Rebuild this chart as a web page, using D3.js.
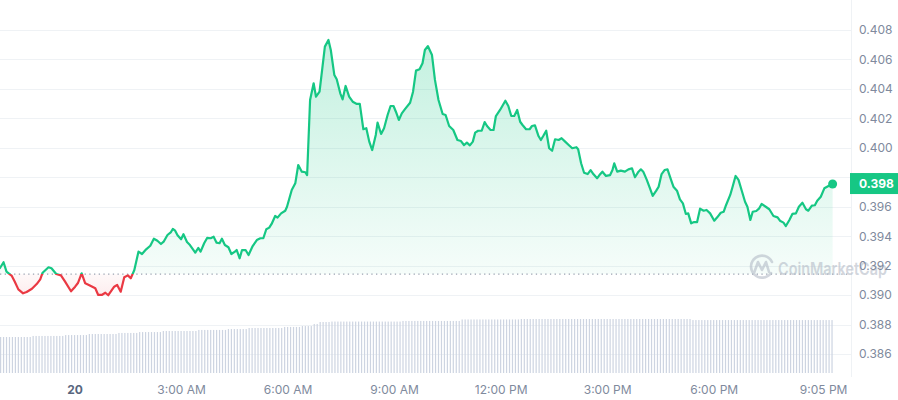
<!DOCTYPE html>
<html>
<head>
<meta charset="utf-8">
<script src="https://cdn.jsdelivr.net/npm/d3@7"></script>
<style>
  body { margin: 0; background: #fff; }
  svg { display: block; font-family: Inter, "Noto Sans", sans-serif; }
</style>
</head>
<body>
<div id="chart"></div>
<script>
// minutes from midnight of the 20th
var priceMinutes = [
  -126,-120,-115,-106,-101,-95,-87,-81,-72,-64,
  -58,-54,-44,-39,-31,-23,-16,-6,1,6,
  12,18,25,35,40,46,52,57,67,72,
  78,84,90,95,101,108,114,121,128,134,
  140,146,151,157,163,166,170,174,180,184,
  190,195,204,209,213,219,224,230,235,240,
  245,249,254,260,265,271,274,279,283,289,
  294,301,308,314,319,324,329,333,339,343,
  349,356,359,367,373,378,384,390,393,398,
  404,408,414,419,423,429,433,439,443,449,
  453,458,464,470,477,482,488,493,498,503,
  509,512,518,523,529,534,539,543,548,553,
  559,567,572,577,583,588,592,597,604,609,
  615,622,627,633,640,647,653,658,663,668,
  673,677,682,688,693,697,703,708,712,719,
  728,733,738,743,748,753,757,763,769,773,
  778,784,788,792,797,802,807,812,818,823,
  829,835,841,848,851,856,861,867,872,877,
  883,887,892,898,905,909,912,917,923,930,
  936,942,947,953,957,961,967,973,977,983,
  987,992,997,1002,1008,1012,1018,1023,1028,1033,
  1037,1042,1047,1052,1057,1063,1068,1074,1081,1086,
  1092,1097,1101,1108,1112,1117,1122,1128,1133,1137,
  1142,1146,1152,1157,1161,1168,1174,1181,1188,1192,
  1198,1202,1208,1213,1219,1224,1230,1236,1240,1246,
  1251,1255,1261,1267,1274,1281
];

var prices = [
  0.39184,0.39223,0.39159,0.39130,0.39091,0.39039,0.39012,0.39021,0.39043,0.39075,
  0.39107,0.39152,0.39189,0.39182,0.39143,0.39134,0.39091,0.39026,0.39057,0.39084,
  0.39148,0.39080,0.39067,0.39046,0.39001,0.39001,0.39016,0.38999,0.39057,0.39069,
  0.39023,0.39121,0.39134,0.39114,0.39170,0.39295,0.39279,0.39311,0.39335,0.39383,
  0.39369,0.39347,0.39365,0.39408,0.39428,0.39449,0.39437,0.39406,0.39379,0.39413,
  0.39360,0.39340,0.39288,0.39320,0.39295,0.39352,0.39388,0.39386,0.39396,0.39356,
  0.39352,0.39383,0.39340,0.39325,0.39279,0.39295,0.39306,0.39250,0.39306,0.39306,
  0.39272,0.39333,0.39374,0.39386,0.39386,0.39447,0.39458,0.39483,0.39537,0.39526,
  0.39555,0.39573,0.39600,0.39714,0.39759,0.39883,0.39838,0.39834,0.39815,0.40325,
  0.40438,0.40347,0.40381,0.40551,0.40687,0.40732,0.40664,0.40494,0.40465,0.40370,
  0.40329,0.40420,0.40347,0.40313,0.40298,0.40298,0.40126,0.40133,0.40042,0.39985,
  0.40087,0.40171,0.40094,0.40133,0.40223,0.40284,0.40284,0.40245,0.40189,0.40234,
  0.40266,0.40306,0.40381,0.40524,0.40533,0.40574,0.40664,0.40691,0.40630,0.40461,
  0.40325,0.40230,0.40223,0.40148,0.40121,0.40053,0.40046,0.40019,0.40035,0.40017,
  0.40042,0.40103,0.40116,0.40116,0.40175,0.40148,0.40121,0.40121,0.40216,0.40257,
  0.40320,0.40284,0.40216,0.40216,0.40257,0.40177,0.40155,0.40126,0.40126,0.40148,
  0.40153,0.40080,0.40053,0.40080,0.40116,0.39997,0.39980,0.40058,0.40053,0.40065,
  0.40042,0.40019,0.39997,0.40004,0.39990,0.39895,0.39831,0.39822,0.39849,0.39820,
  0.39793,0.39815,0.39838,0.39809,0.39815,0.39849,0.39895,0.39838,0.39845,0.39838,
  0.39854,0.39861,0.39800,0.39838,0.39854,0.39838,0.39782,0.39718,0.39673,0.39709,
  0.39736,0.39822,0.39849,0.39854,0.39782,0.39736,0.39709,0.39650,0.39623,0.39551,
  0.39555,0.39487,0.39496,0.39496,0.39587,0.39573,0.39578,0.39555,0.39505,0.39528,
  0.39559,0.39566,0.39612,0.39680,0.39736,0.39809,0.39782,0.39702,0.39634,0.39600,
  0.39510,0.39566,0.39571,0.39589,0.39619,0.39600,0.39583,0.39537,0.39528,0.39505,
  0.39492,0.39469,0.39510,0.39551,0.39555,0.39600,0.39627,0.39583,0.39573,0.39607,
  0.39610,0.39641,0.39668,0.39725,0.39741,0.39754
];

var openPrice = 0.39143;

// volume bars, one per 5 minutes from the first price point (millions)
var volumes = [
  240,240,240,240,240,240,240,240,240,240,
  240,247,247,247,247,247,247,247,247,247,
  247,247,253,253,253,253,253,253,253,253,
  260,260,260,260,260,260,260,260,260,260,
  267,267,267,267,267,267,267,273,273,273,
  273,273,273,273,273,280,280,280,280,280,
  280,280,280,280,280,280,280,287,287,287,
  287,287,287,287,287,287,287,293,293,293,
  293,293,293,293,300,300,300,300,300,300,
  300,300,300,300,300,300,307,307,307,307,
  307,307,313,313,313,313,327,327,340,340,
  340,340,343,343,343,343,343,343,343,343,
  343,343,343,343,343,343,343,343,343,343,
  343,343,343,343,343,343,347,347,347,347,
  347,347,347,347,347,347,347,347,347,347,
  347,347,347,347,347,347,357,357,357,357,
  357,357,357,357,357,357,357,357,357,357,
  357,357,357,357,357,357,360,360,360,360,
  360,360,360,360,360,360,360,360,360,360,
  360,360,360,360,360,360,360,360,360,360,
  360,360,360,360,360,360,360,360,360,360,
  360,360,360,360,360,360,360,360,360,360,
  360,360,360,360,360,360,360,360,360,360,
  360,360,360,360,353,353,353,353,353,353,
  353,353,353,353,353,353,353,353,353,353,
  353,353,353,353,353,353,353,353,353,353,
  353,353,353,353,353,353,353,353,353,353,
  353,353,353,353,353,353,353,353,353,353,
  353,353
];

var yTicks = [0.386, 0.388, 0.390, 0.392, 0.394, 0.396, 0.398, 0.400, 0.402, 0.404, 0.406, 0.408];
var xTickMinutes = [0, 180, 360, 540, 720, 900, 1080, 1265];
var xTickLabels = ["20", "3:00 AM", "6:00 AM", "9:00 AM", "12:00 PM", "3:00 PM", "6:00 PM", "9:05 PM"];

var W = 898, H = 400, plotRight = 848, plotBottom = 373;
var green = "#16c784", red = "#ea3943";

var base = new Date(2024, 0, 20, 0, 0, 0).getTime();
function toDate(m) { return new Date(base + m * 60000); }

var data = priceMinutes.map(function(m, i) { return {date: toDate(m), price: prices[i]}; });
var last = data[data.length - 1];

var svg = d3.select("#chart").append("svg")
    .attr("width", W).attr("height", H);

var x = d3.scaleTime()
    .domain([toDate(priceMinutes[0]), toDate(priceMinutes[priceMinutes.length - 1] + 26)])
    .range([0, plotRight]);
var y = d3.scaleLinear().domain([0.386, 0.408]).range([354, 30]);
var yVol = d3.scaleLinear().domain([0, 400]).range([plotBottom, plotBottom - 60]);

var defs = svg.append("defs");
var yOpen = y(openPrice);

defs.append("clipPath").attr("id", "above")
  .append("rect").attr("x", -5).attr("y", 0).attr("width", W).attr("height", yOpen);
defs.append("clipPath").attr("id", "below")
  .append("rect").attr("x", -5).attr("y", yOpen).attr("width", W).attr("height", H - yOpen);

var gGreen = defs.append("linearGradient").attr("id", "gGreen")
    .attr("gradientUnits", "userSpaceOnUse")
    .attr("x1", 0).attr("x2", 0).attr("y1", y(0.4075)).attr("y2", yOpen);
gGreen.append("stop").attr("offset", 0).attr("stop-color", green).attr("stop-opacity", 0.26);
gGreen.append("stop").attr("offset", 1).attr("stop-color", green).attr("stop-opacity", 0.04);

var gRed = defs.append("linearGradient").attr("id", "gRed")
    .attr("gradientUnits", "userSpaceOnUse")
    .attr("x1", 0).attr("x2", 0).attr("y1", yOpen).attr("y2", y(0.3898));
gRed.append("stop").attr("offset", 0).attr("stop-color", red).attr("stop-opacity", 0.03);
gRed.append("stop").attr("offset", 1).attr("stop-color", red).attr("stop-opacity", 0.1);

// grid
svg.append("g").selectAll("line").data(yTicks).join("line")
    .attr("x1", 0).attr("x2", 851)
    .attr("y1", function(d) { return Math.round(y(d)) + 0.5; })
    .attr("y2", function(d) { return Math.round(y(d)) + 0.5; })
    .attr("stroke", "#eff2f5").attr("stroke-width", 1);

svg.append("line")
    .attr("x1", 851.5).attr("x2", 851.5).attr("y1", 0).attr("y2", 377)
    .attr("stroke", "#eff2f5");

// volume
svg.append("g").selectAll("rect").data(volumes).join("rect")
    .attr("x", function(d, i) { return x(toDate(priceMinutes[0] + 5 * i)); })
    .attr("y", function(d) { return yVol(d); })
    .attr("width", 1.2)
    .attr("height", function(d) { return plotBottom - yVol(d); })
    .attr("fill", "#cdd4e1");

// price area + line
var area = d3.area()
    .x(function(d) { return x(d.date); })
    .y0(yOpen)
    .y1(function(d) { return y(d.price); });

var line = d3.line()
    .x(function(d) { return x(d.date); })
    .y(function(d) { return y(d.price); });

svg.append("path").datum(data).attr("d", area)
    .attr("clip-path", "url(#above)").attr("fill", "url(#gGreen)");
svg.append("path").datum(data).attr("d", area)
    .attr("clip-path", "url(#below)").attr("fill", "url(#gRed)");

svg.append("line")
    .attr("x1", 0).attr("x2", plotRight)
    .attr("y1", yOpen).attr("y2", yOpen)
    .attr("stroke", "#9aa3b1").attr("stroke-width", 1.2)
    .attr("stroke-dasharray", "1.3,3.4");

svg.append("path").datum(data).attr("d", line)
    .attr("clip-path", "url(#above)")
    .attr("fill", "none").attr("stroke", green).attr("stroke-width", 2.2)
    .attr("stroke-linejoin", "round").attr("stroke-linecap", "round");
svg.append("path").datum(data).attr("d", line)
    .attr("clip-path", "url(#below)")
    .attr("fill", "none").attr("stroke", red).attr("stroke-width", 2.2)
    .attr("stroke-linejoin", "round").attr("stroke-linecap", "round");

svg.append("circle")
    .attr("cx", x(last.date)).attr("cy", y(last.price)).attr("r", 4.5)
    .attr("fill", green);

// watermark
var wm = svg.append("g").attr("opacity", 0.55).attr("fill", "none").attr("stroke", "#aeb6c3");
wm.append("path")
    .attr("d", "M771,273 A11,11 0 1 1 772,262")
    .attr("stroke-width", 2.6).attr("stroke-linecap", "round");
wm.append("path")
    .attr("d", "M754,273 L758,262 L762,270 L766,262 L769,272")
    .attr("stroke-width", 2.6).attr("stroke-linejoin", "round").attr("stroke-linecap", "round");
svg.append("text")
    .attr("x", 778).attr("y", 275)
    .attr("font-size", 17).attr("font-weight", 600)
    .attr("textLength", 109).attr("lengthAdjust", "spacingAndGlyphs")
    .attr("fill", "#aeb6c3").attr("opacity", 0.55)
    .text("CoinMarketCap");

// y axis
var yAxis = svg.append("g")
    .attr("transform", "translate(851,0)")
    .call(d3.axisRight(y).tickValues(yTicks).tickFormat(d3.format(".3f")).tickSize(0).tickPadding(8));
yAxis.select(".domain").remove();
yAxis.selectAll("text").attr("font-size", 12).attr("fill", "#808a9d")
    .style("font-family", "Inter, sans-serif");

// price tag
var tagY = y(last.price);
svg.append("rect")
    .attr("x", 850).attr("y", tagY - 11).attr("width", 48).attr("height", 21)
    .attr("fill", green);
svg.append("text")
    .attr("x", 859).attr("y", tagY).attr("dy", "0.36em")
    .attr("font-size", 12).attr("font-weight", 700).attr("fill", "#fff")
    .text(d3.format(".3f")(last.price));

// x axis
var xAxis = svg.append("g")
    .attr("transform", "translate(0,378)")
    .call(d3.axisBottom(x)
      .tickValues(xTickMinutes.map(toDate))
      .tickFormat(function(d, i) { return xTickLabels[i]; })
      .tickSize(0).tickPadding(7));
xAxis.select(".domain").remove();
xAxis.selectAll("text")
    .attr("font-size", 12)
    .attr("fill", function(d, i) { return i === 0 ? "#58667e" : "#808a9d"; })
    .attr("font-weight", function(d, i) { return i === 0 ? 700 : 400; })
    .style("font-family", "Inter, sans-serif");
</script>
</body>
</html>
